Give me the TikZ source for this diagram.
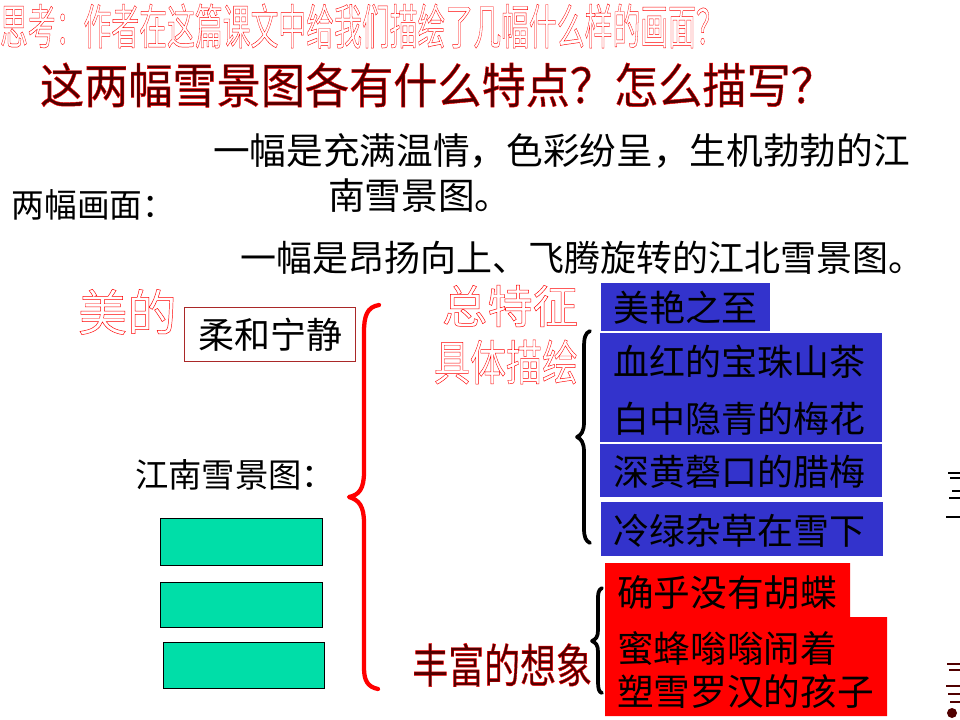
\documentclass[tikz,border=0pt]{standalone}
\usepackage{fontspec}
\setmainfont{Noto Sans CJK SC}
\usepackage{graphicx}
\definecolor{boxblue}{RGB}{51,51,204}
\definecolor{boxred}{RGB}{255,0,0}
\definecolor{boxgreen}{RGB}{0,222,168}
\definecolor{titdark}{RGB}{80,0,0}
\definecolor{rimred}{RGB}{170,40,40}
\newcommand\tx[3]{\scalebox{#2}[1]{\fontsize{#1}{#1}\selectfont #3}}
\newcommand\hollow[1]{{\color{red}\special{pdf:literal direct q 1 Tr 0.35 w}#1\special{pdf:literal direct Q}}}
\newcommand\darktxt[1]{{\color{titdark}\special{pdf:literal direct q 2 Tr 0.35 w 1 0 0 RG}#1\special{pdf:literal direct Q}}}
\tikzset{
  lbl/.style={inner sep=0pt, outer sep=0pt},
  greenbox/.style={draw=black, line width=0.6pt, fill=boxgreen},
  bluebox/.style={fill=boxblue, draw=none},
  redbrace/.style={draw=red, line width=3.2pt, line cap=round, line join=round},
  blackbrace/.style={draw=black, line width=2.8pt, line cap=round, line join=round},
}
\begin{document}
\begin{tikzpicture}[x=0.75pt, y=-0.75pt]
\useasboundingbox (0,0) rectangle (960,720);
\fill[white] (0,0) rectangle (960,720);

% titles
\node[lbl, anchor=west] (q1) at (0,26) {\tx{36pt}{0.58}{\hollow{思考：作者在这篇课文中给我们描绘了几幅什么样的画面？}}};
\node[lbl, anchor=west] (q2) at (40,85) {\tx{36pt}{0.92}{\darktxt{这两幅雪景图各有什么特点？怎么描写？}}};

% intro text
\node[lbl, anchor=west] (l1) at (213,151) {\tx{27.5pt}{1}{一幅是充满温情，色彩纷呈，生机勃勃的江}};
\node[lbl, anchor=west] (l2) at (328,196) {\tx{27.5pt}{1}{南雪景图。}};
\node[lbl, anchor=west] (two) at (12,205) {\tx{25pt}{0.98}{两幅画面：}};
\node[lbl, anchor=west] (l3) at (240,258) {\tx{27pt}{1}{一幅是昂扬向上、飞腾旋转的江北雪景图。}};

% left part
\node[lbl, anchor=west] (mei) at (78,312) {\tx{37pt}{1}{\hollow{美的}}};
\node[draw=rimred, line width=0.6pt, minimum width=128pt, minimum height=41pt, inner sep=0pt] (rou) at (270,334.5) {\tx{27pt}{1}{柔和宁静}};
\node[lbl, anchor=west] (jn) at (135,475) {\tx{25pt}{1}{江南雪景图：}};

\path[greenbox] (160,518) rectangle (322,565);
\path[greenbox] (160,582) rectangle (322,627);
\path[greenbox] (163,642) rectangle (324,688);

% red brace
\coordinate (rbT) at (379,305);
\coordinate (rbM) at (349,497);
\coordinate (rbB) at (378,689);
\draw[redbrace] (rbT) .. controls (367,307) and (364,316) .. (364,332)
  -- (364,472) .. controls (364,489) and (359,495) .. (rbM)
  .. controls (359,500) and (364,506) .. (364,523)
  -- (364,668) .. controls (364,681) and (368,687) .. (rbB);

% middle labels
\node[lbl, anchor=east] (zt) at (578,306) {\tx{34pt}{1}{\hollow{总特征}}};
\node[lbl, anchor=east] (jt) at (578,362) {\tx{36pt}{0.75}{\hollow{具体描绘}}};
\node[lbl, anchor=east] (fx) at (592,665) {\tx{35pt}{0.77}{\darktxt{丰富的想象}}};

% black braces
\coordinate (b1T) at (590,331);
\coordinate (b1M) at (577,437);
\coordinate (b1B) at (590,543);
\draw[blackbrace] (b1T) .. controls (585,333) and (584,338) .. (584,348)
  -- (584,422) .. controls (584,432) and (581,435) .. (b1M)
  .. controls (581,439) and (584,442) .. (584,452)
  -- (584,528) .. controls (584,538) and (586,541) .. (b1B);
\coordinate (b2T) at (602,588);
\coordinate (b2M) at (592,641);
\coordinate (b2B) at (602,693);
\draw[blackbrace] (b2T) .. controls (598,590) and (598,594) .. (598,600)
  -- (598,630) .. controls (598,637) and (596,639) .. (b2M)
  .. controls (596,643) and (598,645) .. (598,652)
  -- (598,682) .. controls (598,689) and (599,692) .. (b2B);

% blue boxes
\path[bluebox] (601,283) rectangle (770,331);
\path[bluebox] (600,333) rectangle (882,442);
\path[bluebox] (600,443.5) rectangle (882,497);
\path[bluebox] (601,502) rectangle (883,556);
\node[lbl, anchor=west] (b1) at (613,308) {\tx{27pt}{1}{美艳之至}};
\node[lbl, anchor=west] (b2) at (613,362) {\tx{27pt}{1}{血红的宝珠山茶}};
\node[lbl, anchor=west] (b3) at (613,419) {\tx{27pt}{1}{白中隐青的梅花}};
\node[lbl, anchor=west] (b4) at (613,472) {\tx{27pt}{1}{深黄磬口的腊梅}};
\node[lbl, anchor=west] (b5) at (613,531) {\tx{27pt}{1}{冷绿杂草在雪下}};

% red box
\fill[boxred] (605,563) -- (850,563) -- (850,617) -- (887,617) -- (887,716) -- (605,716) -- cycle;
\node[lbl, anchor=west] (r1) at (617,593) {\tx{27.5pt}{1}{确乎没有胡蝶}};
\node[lbl, anchor=west] (r2) at (617,649) {\tx{27.5pt}{1}{蜜蜂嗡嗡闹着}};
\node[lbl, anchor=west] (r3) at (617,692) {\tx{27.5pt}{1}{塑雪罗汉的孩子}};

% cut-off fragments at right edge
\draw[black, line width=1.2pt] (948,473) -- (960,473) (950,478) -- (960,478)
  (952,491) -- (960,491) (949,498) -- (960,498) (946,517) -- (960,517);
\draw[titdark, line width=1.4pt] (947,664) -- (960,664) (949,670) -- (960,670)
  (946,686) -- (960,686) (948,694) -- (960,694) (950,702) -- (960,702);
\fill[titdark] (952,713) circle (5);
\end{tikzpicture}
\end{document}
